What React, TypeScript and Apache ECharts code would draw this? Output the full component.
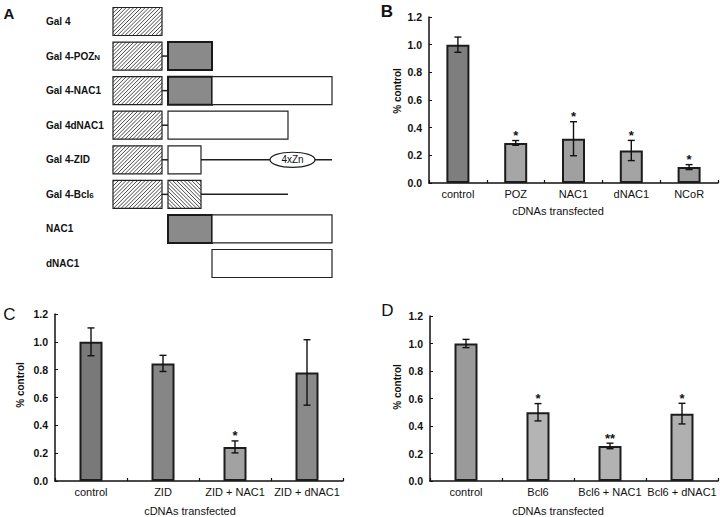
import React, { useEffect, useRef } from 'react';
import * as echarts from 'echarts';

const FONT = 'Liberation Sans, Arial, Helvetica, sans-serif';

// ---------- Panel A: construct schematic ----------
const constructNames = ['Gal 4', 'Gal 4-POZ_N', 'Gal 4-NAC1', 'Gal 4dNAC1', 'Gal 4-ZID', 'Gal 4-Bcl_6', 'NAC1', 'dNAC1'];
const domainKinds = ['gal4', 'poz', 'plain', 'bcl6', 'line', 'zn'];
// [row, start, end, kind]
const domains: [number, number, number, string][] = [
  [0, 0, 49, 'gal4'],
  [1, 0, 49, 'gal4'], [1, 49, 55, 'line'], [1, 55, 99, 'poz'],
  [2, 0, 49, 'gal4'], [2, 49, 55, 'line'], [2, 55, 99, 'poz'], [2, 99, 219, 'plain'],
  [3, 0, 49, 'gal4'], [3, 49, 55, 'line'], [3, 55, 175, 'plain'],
  [4, 0, 49, 'gal4'], [4, 49, 55, 'line'], [4, 55, 88, 'plain'], [4, 88, 219, 'line'], [4, 157, 202, 'zn'],
  [5, 0, 49, 'gal4'], [5, 49, 55, 'line'], [5, 55, 88, 'bcl6'], [5, 88, 175, 'line'],
  [6, 55, 99, 'poz'], [6, 99, 219, 'plain'],
  [7, 99, 219, 'plain'],
];

// ---------- Panel B ----------
const catsB = ['control', 'POZ', 'NAC1', 'dNAC1', 'NCoR'];
const valsB = [1.0, 0.29, 0.32, 0.235, 0.115];
const errB = [0.055, 0.017, 0.123, 0.073, 0.018];
const starsB = ['', '*', '*', '*', '*'];

// ---------- Panel C ----------
const catsC = ['control', 'ZID', 'ZID + NAC1', 'ZID + dNAC1'];
const valsC = [1.0, 0.845, 0.245, 0.78];
const errC = [0.1, 0.058, 0.043, 0.235];
const starsC = ['', '', '*', ''];

// ---------- Panel D ----------
const catsD = ['control', 'Bcl6', 'Bcl6 + NAC1', 'Bcl6 + dNAC1'];
const valsD = [1.0, 0.5, 0.255, 0.49];
const errD = [0.03, 0.063, 0.02, 0.075];
const starsD = ['', '*', '**', '*'];

const yTicks = [0, 0.2, 0.4, 0.6, 0.8, 1.0, 1.2];

// style constants
const shadesB = ['#7e7e7e', '#a6a6a6', '#a0a0a0', '#a4a4a4', '#9c9c9c'];
const shadesC = ['#797979', '#868686', '#a2a2a2', '#8a8a8a'];
const shadesD = ['#9a9a9a', '#b4b4b4', '#b2b2b2', '#b0b0b0'];

function hatch(x0: number, y0: number, x1: number, y1: number, dir: number, step: number) {
  const lines: any[] = [];
  if (dir > 0) {
    for (let c = x0 + y0 + step / 2; c < x1 + y1; c += step) {
      const xa = Math.max(x0, c - y1);
      const xb = Math.min(x1, c - y0);
      if (xb <= xa) continue;
      lines.push({ type: 'line', shape: { x1: xa, y1: c - xa, x2: xb, y2: c - xb }, style: { stroke: '#333', lineWidth: 0.9 } });
    }
  } else {
    for (let c = y0 - x1 + step / 2; c < y1 - x0; c += step) {
      const xa = Math.max(x0, y0 - c);
      const xb = Math.min(x1, y1 - c);
      if (xb <= xa) continue;
      lines.push({ type: 'line', shape: { x1: xa, y1: xa + c, x2: xb, y2: xb + c }, style: { stroke: '#333', lineWidth: 0.9 } });
    }
  }
  return lines;
}

function renderDomain(params: any, api: any) {
  const s = api.value(0);
  const row = api.value(1);
  const e = api.value(2);
  const kind = domainKinds[api.value(3)];
  const p0 = api.coord([s, row]);
  const p1 = api.coord([e, row]);
  const bandH = Math.abs(api.coord([s, 1])[1] - api.coord([s, 0])[1]);
  const h = bandH * 0.81;
  const x0 = p0[0];
  const x1 = p1[0];
  const cy = p0[1];
  const y0 = cy - h / 2;
  const y1 = cy + h / 2;
  if (kind === 'line') {
    return { type: 'line', shape: { x1: x0, y1: cy, x2: x1, y2: cy }, style: { stroke: '#1e1e1e', lineWidth: 1.5 } };
  }
  if (kind === 'zn') {
    return {
      type: 'group',
      children: [
        { type: 'ellipse', shape: { cx: (x0 + x1) / 2, cy, rx: (x1 - x0) / 2, ry: h * 0.27 }, style: { fill: '#fff', stroke: '#1e1e1e', lineWidth: 1.2 } },
        { type: 'text', style: { text: '4xZn', x: (x0 + x1) / 2, y: cy, align: 'center', verticalAlign: 'middle', font: '10px ' + FONT, fill: '#111' } },
      ],
    };
  }
  const rect = { x: x0, y: y0, width: x1 - x0, height: h };
  if (kind === 'poz') {
    return { type: 'rect', shape: rect, style: { fill: '#8a8a8a', stroke: '#1a1a1a', lineWidth: 2 } };
  }
  if (kind === 'plain') {
    return { type: 'rect', shape: rect, style: { fill: '#fff', stroke: '#222', lineWidth: 1.2 } };
  }
  const dir = kind === 'gal4' ? 1 : -1;
  return {
    type: 'group',
    children: [
      { type: 'rect', shape: rect, style: { fill: '#fff' } },
      ...hatch(x0, y0, x1, y1, dir, 3.8),
      { type: 'rect', shape: rect, style: { fill: 'none', stroke: '#222', lineWidth: 1.2 } },
    ],
  };
}

type Panel = {
  left: number; top: number; width: number; height: number;
  cats: string[]; vals: number[]; errs: number[]; stars: string[]; shades: string[];
};

function buildBarPanel(i: number, p: Panel) {
  const grid = { left: p.left, top: p.top, width: p.width, height: p.height, containLabel: false };
  const xAxis = {
    type: 'category', gridIndex: i, data: p.cats,
    axisLine: { lineStyle: { color: '#111', width: 1.5 } },
    axisTick: { show: true, inside: true, length: 3, lineStyle: { color: '#111', width: 1.2 } },
    axisLabel: { color: '#111', fontSize: 11, fontFamily: FONT, margin: 5, interval: 0 },
  };
  const yAxis = {
    type: 'value', gridIndex: i, min: yTicks[0], max: yTicks[yTicks.length - 1], interval: 0.2,
    axisLine: { show: true, lineStyle: { color: '#111', width: 1.5 } },
    axisTick: { show: true, inside: true, length: 3, lineStyle: { color: '#111', width: 1 } },
    splitLine: { show: false },
    axisLabel: { color: '#111', fontSize: 10.5, fontWeight: 'bold', fontFamily: FONT, margin: 7, formatter: (v: number) => v.toFixed(1) },
  };
  const series: any[] = [
    {
      type: 'bar', xAxisIndex: i, yAxisIndex: i, barWidth: 23, silent: true,
      data: p.vals.map((v, j) => ({ value: v, itemStyle: { color: p.shades[j] } })),
      itemStyle: { borderColor: '#1c1c1c', borderWidth: 2 },
    },
    {
      type: 'custom', xAxisIndex: i, yAxisIndex: i, silent: true, z: 5,
      data: p.vals.map((v, j) => [j, v - p.errs[j], v + p.errs[j]]),
      renderItem: (params: any, api: any) => {
        const j = api.value(0);
        const lo = api.coord([j, api.value(1)]);
        const hi = api.coord([j, api.value(2)]);
        const cx = hi[0];
        const w = 3.5;
        const st = { stroke: '#111', lineWidth: 1.4 };
        return {
          type: 'group',
          children: [
            { type: 'line', shape: { x1: cx, y1: hi[1], x2: cx, y2: lo[1] }, style: st },
            { type: 'line', shape: { x1: cx - w, y1: hi[1], x2: cx + w, y2: hi[1] }, style: st },
            { type: 'line', shape: { x1: cx - w, y1: lo[1], x2: cx + w, y2: lo[1] }, style: st },
          ],
        };
      },
    },
    {
      type: 'custom', xAxisIndex: i, yAxisIndex: i, silent: true, z: 5,
      data: p.vals.map((v, j) => [j, v + p.errs[j]]),
      renderItem: (params: any, api: any) => {
        const txt = p.stars[params.dataIndex];
        if (!txt) return null;
        const pt = api.coord([api.value(0), api.value(1)]);
        return {
          type: 'text',
          style: { text: txt, x: pt[0], y: pt[1] - 5, align: 'center', verticalAlign: 'middle', font: 'bold 13px ' + FONT, fill: '#111' },
        };
      },
    },
  ];
  return { grid, xAxis, yAxis, series };
}

const panels: Panel[] = [
  { left: 429, top: 17, width: 289, height: 166, cats: catsB, vals: valsB, errs: errB, stars: starsB, shades: shadesB },
  { left: 55, top: 314, width: 288, height: 167, cats: catsC, vals: valsC, errs: errC, stars: starsC, shades: shadesC },
  { left: 430, top: 316, width: 288, height: 165, cats: catsD, vals: valsD, errs: errD, stars: starsD, shades: shadesD },
];

function buildOption() {
  const built = panels.map((p, k) => buildBarPanel(k + 1, p));
  const label = (t: string, x: number, y: number, size: number, weight: string) => ({
    type: 'text', x, y, style: { text: t, align: 'center', verticalAlign: 'middle', font: `${weight} ${size}px ${FONT}`, fill: '#111' },
  });
  const yName = (x: number, y: number) => ({
    type: 'text', x, y, rotation: Math.PI / 2,
    style: { text: '% control', align: 'center', verticalAlign: 'middle', font: `bold 10px ${FONT}`, fill: '#111' },
  });
  return {
    animation: false,
    backgroundColor: '#fff',
    textStyle: { fontFamily: FONT },
    grid: [
      { left: 113, top: 4.2, width: 220, height: 276.6 },
      ...built.map((b) => b.grid),
    ],
    xAxis: [
      { type: 'value', gridIndex: 0, min: 0, max: 220, show: false },
      ...built.map((b) => b.xAxis),
    ],
    yAxis: [
      {
        type: 'category', gridIndex: 0, data: constructNames, inverse: true,
        axisLine: { show: false }, axisTick: { show: false }, splitLine: { show: false },
        axisLabel: {
          align: 'left', margin: 67, color: '#111', fontSize: 10, fontWeight: 'bold', fontFamily: FONT,
          formatter: (v: string) => v.replace(/_(\w+)/, '{sub|$1}'),
          rich: { sub: { fontSize: 8, fontWeight: 'bold', fontFamily: FONT, color: '#111', lineHeight: 6, verticalAlign: 'bottom' } },
        },
      },
      ...built.map((b) => b.yAxis),
    ],
    series: [
      {
        type: 'custom', xAxisIndex: 0, yAxisIndex: 0, silent: true,
        encode: { x: [0, 2], y: 1 },
        data: domains.map(([r, s, e, k]) => [s, r, e, domainKinds.indexOf(k)]),
        renderItem: renderDomain,
      },
      ...built.flatMap((b) => b.series),
    ],
    graphic: [
      label('A', 9, 13, 15, 'bold'),
      label('B', 387, 11, 17, 'bold'),
      label('C', 9.5, 314.5, 17, 'normal'),
      label('D', 387.5, 310, 17, 'normal'),
      label('cDNAs transfected', 558, 210.5, 11, 'normal'),
      label('cDNAs transfected', 190, 511, 11, 'normal'),
      label('cDNAs transfected', 558, 511, 11, 'normal'),
      yName(397.5, 91),
      yName(20, 385),
      yName(397.5, 387),
    ],
  };
}

export default function App() {
  const ref = useRef<HTMLDivElement>(null);
  useEffect(() => {
    if (!ref.current) return;
    const chart = echarts.init(ref.current, null, { renderer: 'svg' });
    chart.setOption(buildOption() as any);
    return () => chart.dispose();
  }, []);
  return (
    <div
      ref={ref}
      style={{ position: 'fixed', left: 0, top: 0, width: 720, height: 517, background: '#fff' }}
    />
  );
}
